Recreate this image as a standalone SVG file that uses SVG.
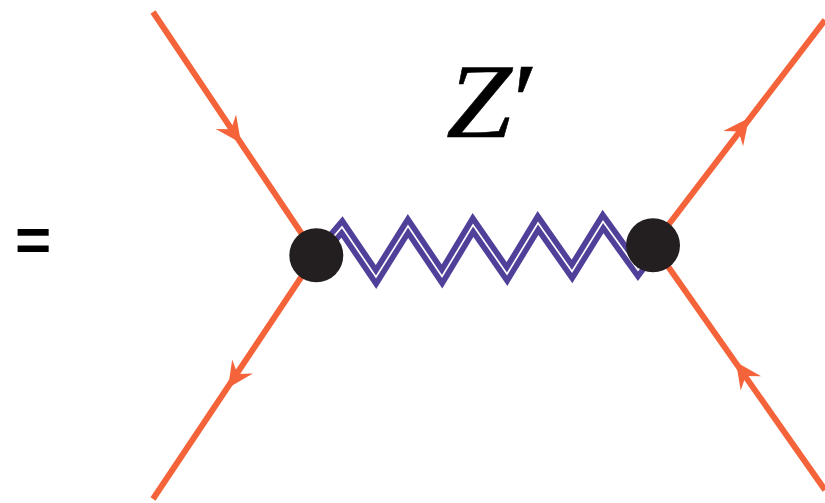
<svg xmlns="http://www.w3.org/2000/svg" width="825" height="503" viewBox="0 0 825 503">
<style>
.f{fill:none;stroke:#f4633a;stroke-width:6}
.a{fill:#f4633a}
.n{fill:#231f20}
.z1{fill:none;stroke:#51409a;stroke-width:13;stroke-miterlimit:10;stroke-linejoin:miter}
.z2{fill:none;stroke:#fff;stroke-width:1.7;stroke-miterlimit:10;stroke-linejoin:miter}
</style>
<defs><path id="ah" d="M0 0L-26 -12.5L-17 0L-26 12.5Z"/></defs>
<rect width="825" height="503" fill="#fff"/>
<g id="connectors">
<path class="f" d="M153 12L316 255"/>
<path class="f" d="M153 499L316 255"/>
<path class="f" d="M825 20L653 245"/>
<path class="f" d="M825 490L653 245"/>
<use href="#ah" class="a" transform="translate(241 143) rotate(54.5)"/>
<use href="#ah" class="a" transform="translate(228 388) rotate(124)"/>
<use href="#ah" class="a" transform="translate(749 118) rotate(-52.5)"/>
<use href="#ah" class="a" transform="translate(736 362) rotate(-125)"/>
<path class="z1" d="M318 255L342 227L376 277L408 226L442 276.5L473 225L507 274L538 223L572 271.5L603 221.5L638 270L653 250"/>
<path class="z2" d="M318 255L342 227L376 277L408 226L442 276.5L473 225L507 274L538 223L572 271.5L603 221.5L638 270L653 250"/>
</g>
<g id="node-left"><circle class="n" cx="316.3" cy="255.3" r="27"/></g>
<g id="node-right"><circle class="n" cx="653" cy="245.3" r="27"/></g>
<g id="label-z"><text transform="translate(446 137) scale(1.13 1)" font-family="'Liberation Serif',serif" font-style="italic" font-size="105" letter-spacing="-6" stroke="#000" stroke-width="0.5">Z′</text></g>
<g id="label-eq"><text x="15" y="261" font-family="'Liberation Sans',sans-serif" font-weight="bold" font-size="62">=</text></g>
</svg>
